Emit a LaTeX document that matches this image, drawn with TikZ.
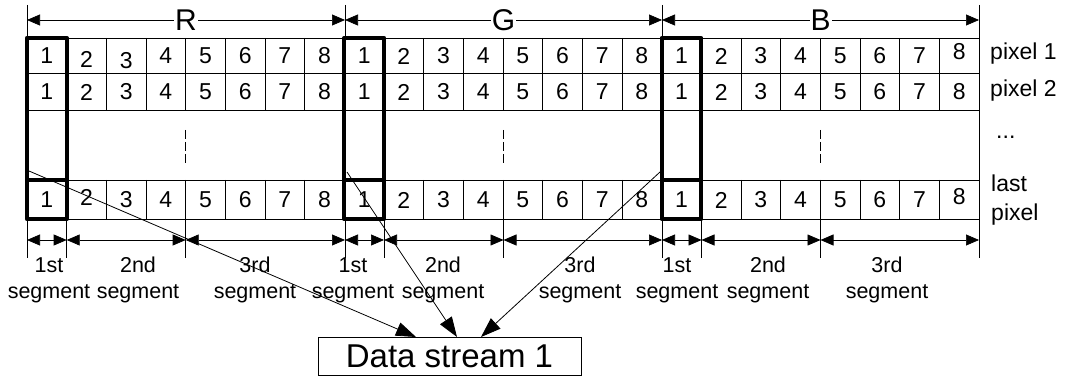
\documentclass[tikz,border=0pt]{standalone}
\usepackage{fontspec}
\setmainfont{Liberation Sans}
\usetikzlibrary{arrows.meta}
\begin{document}
\begin{tikzpicture}[x=1pt,y=-1pt,
 cell/.style={draw=black,line width=0.9pt},
 num/.style={font=\fontsize{23}{24}\selectfont, inner sep=0pt},
 seglbl/.style={font=\fontsize{21.5}{26}\selectfont, inner sep=0pt, align=center},
 sidelbl/.style={font=\fontsize{23}{29}\selectfont, inner sep=0pt, align=left, anchor=west},
 big/.style={font=\fontsize{30}{32}\selectfont, inner sep=1pt, fill=white},
 boldbox/.style={line width=4.2pt, line join=round},
 dimline/.style={line width=0.7pt,{Triangle[length=13pt,width=11pt]}-{Triangle[length=13pt,width=11pt]}},
 tickline/.style={line width=0.7pt},
 feed/.style={line width=0.8pt,-{Triangle[length=20pt,width=14pt]}},
 dashline/.style={line width=0.9pt, dash pattern=on 9pt off 3pt}
]
\useasboundingbox (0,0) rectangle (1070,379);

% horizontal table lines
\foreach \y in {38,73,110,180,219}{
  \draw[cell] (27,\y) -- (979,\y);
}
% vertical cell lines
\foreach \k in {0,...,24}{
  \draw[cell] ({27+39.667*\k},38) -- ({27+39.667*\k},110);
  \draw[cell] ({27+39.667*\k},180) -- ({27+39.667*\k},219);
}
\draw[cell] (979,110) -- (979,180);

% cell numbers and dashed guides
\foreach \b/\bn in {0/R,1/G,2/B}{
  \foreach \i in {1,...,8}{
    \node[num] (\bn-b-\i) at ({27+317.33*\b+39.667*(\i-0.5)},92) {\i};
  }
  \draw[dashline] ({27+317.33*\b+39.667*4},130) -- ({27+317.33*\b+39.667*4},165);
}
% first rows (with the small shifts of the original)
\foreach \b/\bn in {0/R,1/G,2/B}{
  \foreach \i/\dy in {1/0,2/0,3/0,4/0,5/0,6/0,7/0,8/0}{
    \pgfmathsetmacro\shiftA{(\b==0 && \i==2) ? 3 : ((\b==0 && \i==3) ? 5 : ((\b==2 && \i==8) ? -4 : 0))}
    \pgfmathsetmacro\shiftC{(\b==0 && \i==2) ? -3 : ((\b==2 && \i==8) ? -3 : 0)}
    \node[num] (\bn-a-\i) at ({27+317.33*\b+39.667*(\i-0.5)},{56+\shiftA}) {\i};
    \node[num] (\bn-c-\i) at ({27+317.33*\b+39.667*(\i-0.5)},{200+\shiftC}) {\i};
  }
}
% bold boxes round the first cells
\foreach \b in {0,1,2}{
  \draw[boldbox] ({27+317.33*\b},38) rectangle ({27+317.33*\b+39.667},219);
  \draw[boldbox] ({27+317.33*\b},180) -- ({27+317.33*\b+39.667},180);
}

% top ticks and dimensions
\foreach \x/\n in {27/p0,345/p1,662/p2,979/p3}{
  \coordinate (\n-dim) at (\x,20);
}
\foreach \x in {27,345,662}{
  \draw[tickline] (\x,5) -- (\x,38);
}
\draw[tickline] (979,5) -- (979,258);
\draw[dimline] (p0-dim) -- (p1-dim);
\draw[dimline] (p1-dim) -- (p2-dim);
\draw[dimline] (p2-dim) -- (p3-dim);
\node[big] (lR) at (186,20) {R};
\node[big] (lG) at (503.5,20) {G};
\node[big] (lB) at (820.5,20) {B};

% bottom ticks and segment dimensions
\foreach \x/\n in {27/s0,66.7/s1,185.7/s2,345/s3,384/s4,503.5/s5,662/s6,701.5/s7,820.5/s8,979/s9}{
  \draw[tickline] (\x,219) -- (\x,258);
  \coordinate (\n) at (\x,240);
}
\draw[dimline] (s0) -- (s1);
\draw[dimline] (s1) -- (s2);
\draw[dimline] (s2) -- (s3);
\draw[dimline] (s3) -- (s4);
\draw[dimline] (s4) -- (s5);
\draw[dimline] (s5) -- (s6);
\draw[dimline] (s6) -- (s7);
\draw[dimline] (s7) -- (s8);
\draw[dimline] (s8) -- (s9);

\node[seglbl] (gR1) at (49,280) {1st\\segment};
\node[seglbl] (gR2) at (138,280) {2nd\\segment};
\node[seglbl] (gR3) at (255,280) {3rd\\segment};
\node[seglbl] (gG1) at (353,280) {1st\\segment};
\node[seglbl] (gG2) at (443,280) {2nd\\segment};
\node[seglbl] (gG3) at (580,280) {3rd\\segment};
\node[seglbl] (gB1) at (677,280) {1st\\segment};
\node[seglbl] (gB2) at (768,280) {2nd\\segment};
\node[seglbl] (gB3) at (887,280) {3rd\\segment};

% side labels
\node[sidelbl] (px1) at (990,54) {pixel 1};
\node[sidelbl] (px2) at (990,91) {pixel 2};
\node[sidelbl] (pxd) at (996,137) {...};
\node[sidelbl] (pxl) at (991,200) {last\\pixel};

% data stream
\node[draw, line width=0.9pt, minimum width=263pt, minimum height=38pt, inner sep=0pt,
      font=\fontsize{33}{35}\selectfont] (ds) at (449.5,356) {Data stream 1};
\coordinate (f1) at (29,171);
\coordinate (f2) at (347,172);
\coordinate (f3) at (660,172);
\coordinate (t1) at (416,337);
\coordinate (t2) at (457,337);
\coordinate (t3) at (481,337);
\draw[feed] (f1) -- (t1);
\draw[feed] (f2) -- (t2);
\draw[feed] (f3) -- (t3);
\end{tikzpicture}
\end{document}
